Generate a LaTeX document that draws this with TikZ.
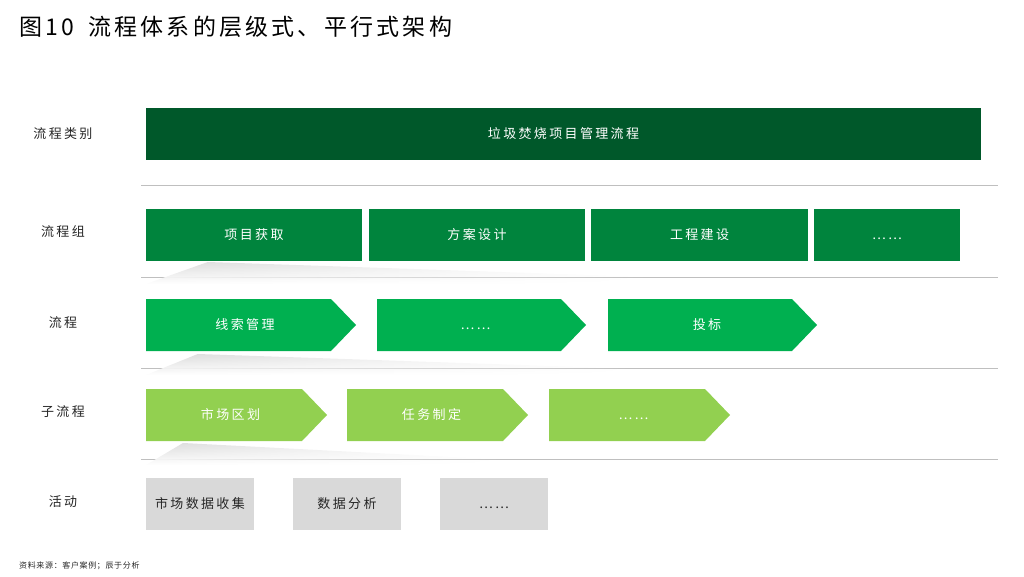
\documentclass[tikz,border=0pt]{standalone}
\usepackage{fontspec}
\setmainfont{Noto Sans CJK SC}[LetterSpace=18]
\usetikzlibrary{fadings}
\definecolor{cA}{HTML}{00582A}
\definecolor{cB}{HTML}{00843D}
\definecolor{cC}{HTML}{00B050}
\definecolor{cD}{HTML}{92D050}
\definecolor{cE}{HTML}{D9D9D9}
\definecolor{sep}{HTML}{BFBFBF}
\definecolor{txt}{HTML}{262626}
\tikzfading[name=fadeR, left color=transparent!0, middle color=transparent!25, right color=transparent!100]
\tikzset{
  boxtext/.style={font=\fontsize{13}{13}\selectfont, text height=10.5pt, text depth=1.5pt},
  lvlbox/.style={boxtext, rectangle, minimum height=52pt, inner sep=0pt, text=white},
  chevtext/.style={boxtext, inner sep=0pt, text=white},
  actbox/.style={boxtext, rectangle, minimum height=52pt, minimum width=108pt, inner sep=0pt, fill=cE, text=txt},
  rowlabel/.style={font=\fontsize{13}{13}\selectfont, text=txt},
  sepline/.style={draw=sep, line width=1pt},
  shadowshape/.style={top color=black!14, bottom color=white, draw=none, path fading=fadeR},
}
\newcommand{\chevshape}[5]{% color, left, tip, top, bottom
  \fill[#1] (#2,#4) -- ({#3-25},#4) -- (#3,{(#4+#5)/2}) -- ({#3-25},#5) -- (#2,#5) -- cycle;}
\begin{document}
\begin{tikzpicture}[x=1pt,y=-1pt]
\useasboundingbox (0,0) rectangle (1024,577);
% title
\node[anchor=west, inner sep=0pt, font=\fontsize{23}{23}\selectfont\addfontfeature{LetterSpace=14}, text=black] (title) at (19,27) {图10\hspace{14pt}流程体系的层级式、平行式架构};
% row labels
\node[rowlabel] (l1) at (63,134) {流程类别};
\node[rowlabel] (l2) at (63,232) {流程组};
\node[rowlabel] (l3) at (63,323) {流程};
\node[rowlabel] (l4) at (63,412) {子流程};
\node[rowlabel] (l5) at (63,502) {活动};
% separators
\coordinate (s1a) at (141,186); \coordinate (s1b) at (998,186);
\coordinate (s2a) at (141,277); \coordinate (s2b) at (998,277);
\coordinate (s3a) at (141,368); \coordinate (s3b) at (998,368);
\coordinate (s4a) at (141,459); \coordinate (s4b) at (998,459);
\draw[sepline] (s1a) -- (s1b);
\draw[sepline] (s2a) -- (s2b);
\draw[sepline] (s3a) -- (s3b);
\draw[sepline] (s4a) -- (s4b);
% shadows
\path[shadowshape] (146,284) -- (208,262) -- (650,277) -- (650,284) -- cycle;
\path[shadowshape] (146,375) -- (198,354) -- (640,369) -- (640,375) -- cycle;
\path[shadowshape] (146,465) -- (183,443) -- (510,460) -- (510,465) -- cycle;
% top level
\node[lvlbox, fill=cA, minimum width=835pt] (top) at (563.5,134) {垃圾焚烧项目管理流程};
% process groups
\node[lvlbox, fill=cB, minimum width=216pt] (g1) at (254,235) {项目获取};
\node[lvlbox, fill=cB, minimum width=216pt] (g2) at (477,235) {方案设计};
\node[lvlbox, fill=cB, minimum width=217pt] (g3) at (699.5,235) {工程建设};
\node[lvlbox, fill=cB, minimum width=146pt] (g4) at (887,235) {……};
% processes
\chevshape{cC}{146}{356}{299}{351}
\chevshape{cC}{377}{586}{299}{351}
\chevshape{cC}{608}{817}{299}{351}
\node[chevtext] (p1) at (245,325) {线索管理};
\node[chevtext] (p2) at (475.5,325) {……};
\node[chevtext] (p3) at (707,325) {投标};
% sub processes
\chevshape{cD}{146}{327}{389}{441}
\chevshape{cD}{347}{528}{389}{441}
\chevshape{cD}{549}{730}{389}{441}
\node[chevtext] (q1) at (230.5,415) {市场区划};
\node[chevtext] (q2) at (431.5,415) {任务制定};
\node[chevtext] (q3) at (633.5,415) {……};
% activities
\node[actbox] (a1) at (200,504) {市场数据收集};
\node[actbox] (a2) at (347,504) {数据分析};
\node[actbox] (a3) at (494,504) {……};
% footer
\node[anchor=west, inner sep=0pt, font=\fontsize{8}{8}\selectfont\addfontfeature{LetterSpace=8}, text=txt] (foot) at (19,566) {资料来源：客户案例；辰于分析};
\end{tikzpicture}
\end{document}
